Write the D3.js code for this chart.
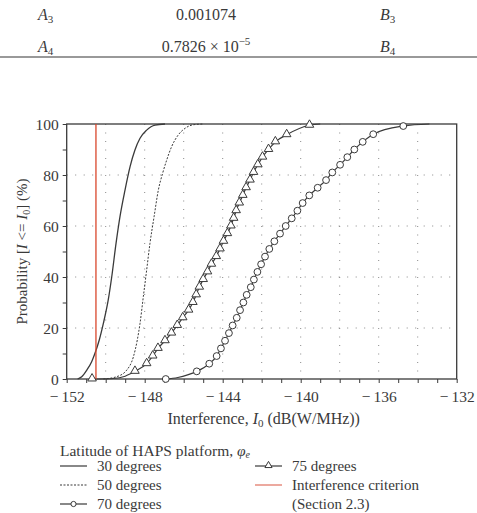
<!DOCTYPE html>
<html>
<head>
<meta charset="utf-8">
<script src="https://cdn.jsdelivr.net/npm/d3@7"></script>
<style>
  body { margin: 0; background: #fff; }
  svg { display: block; }
  svg text { fill: #3a3a3a; }
</style>
</head>
<body>
<div id="chart"></div>
<script>
// table rows shown above the chart
var tableLabels = ["3", "4"];
var tableValues = ["0.001074", "0.7826 \u00d7 10"];
var tableExp = ["", "\u22125"];

// x ticks / y ticks
var xTicks = [-152, -148, -144, -140, -136, -132];
var yTicks = [0, 20, 40, 60, 80, 100];

// interference criterion (dB(W/MHz))
var criterion = -150.5;

// 30 degrees (solid)
var lat30 = [[-151.44,0],[-151.23,0.9],[-150.97,3.5],[-150.72,6.8],[-150.55,10.1],[-150.33,15.3],
  [-150.12,21.8],[-149.87,31.0],[-149.69,40.1],[-149.47,53.2],[-149.27,63.6],[-149.01,74.1],
  [-148.75,83.3],[-148.5,89.8],[-148.24,94.4],[-147.9,97.6],[-147.47,99.6],[-146.96,100]];

// 50 degrees (dotted)
var lat50 = [[-150.12,0],[-149.44,0.9],[-148.92,3.5],[-148.58,8.7],[-148.38,15.3],[-148.24,21.8],
  [-148.07,32.3],[-147.9,42.7],[-147.73,53.2],[-147.52,63.6],[-147.3,74.1],[-147.08,80.7],
  [-146.87,85.9],[-146.62,91.1],[-146.28,95.7],[-145.93,98.3],[-145.51,99.7],[-145.0,100]];

// 70 degrees (circles), third field = marker
var lat70 = [[-146.92,0,1],[-146.3,0.6,0],[-145.8,1.6,0],[-145.33,3,1],[-144.69,6,1],[-144.31,9,1],
  [-144.09,12,1],[-143.88,15,1],[-143.68,18,1],[-143.49,21,1],[-143.28,24,1],[-143.11,27,1],
  [-142.94,30,1],[-142.77,33,1],[-142.56,36,1],[-142.4,39,1],[-142.22,42,1],[-142.03,45,1],
  [-141.83,48,1],[-141.61,51,1],[-141.35,54,1],[-141.06,57,1],[-140.77,60,1],[-140.46,63,1],
  [-140.17,66,1],[-139.9,69,1],[-139.56,72,1],[-139.13,75,1],[-138.7,78,1],[-138.38,81,1],
  [-137.98,84,1],[-137.61,87,1],[-137.25,90,1],[-136.82,93,1],[-136.28,96,1],[-134.74,99.2,1],
  [-133.4,100,0]];

// 75 degrees (triangles)
var lat75 = [[-150.7,0,1],[-149.6,0.2,0],[-149.0,1.1,0],[-148.5,3,1],[-147.9,6,1],[-147.59,9,1],
  [-147.32,12,1],[-146.96,15,1],[-146.63,18,1],[-146.33,21,1],[-146.05,24,1],[-145.75,27,1],
  [-145.53,30,1],[-145.36,33,1],[-145.2,36,1],[-145.0,39,1],[-144.78,42,1],[-144.58,45,1],
  [-144.33,48,1],[-144.14,51,1],[-143.96,54,1],[-143.76,57,1],[-143.58,60,1],[-143.44,63,1],
  [-143.31,66,1],[-143.15,69,1],[-142.97,72,1],[-142.8,75,1],[-142.6,78,1],[-142.42,81,1],
  [-142.2,84,1],[-141.96,87,1],[-141.65,90,1],[-141.3,93,1],[-140.72,95.8,1],[-139.55,99.5,1],
  [-139.0,100,0]];

var width = 477, height = 513;
var margin = { top: 124, right: 20.3, bottom: 134, left: 66.7 };
var ink = "#3a3a3a";
var serif = "Liberation Serif";

var svg = d3.select("#chart").append("svg")
  .attr("width", width)
  .attr("height", height)
  .attr("font-family", serif);

// ---- table fragment at top
var rowY = [20, 52];
tableLabels.forEach(function(sub, i) {
  var t = svg.append("text").attr("x", 38).attr("y", rowY[i]).style("font-size", "16px");
  t.append("tspan").style("font-style", "italic").text("A");
  t.append("tspan").attr("dy", 3).style("font-size", "11px").text(sub);

  var v = svg.append("text").attr("x", 206).attr("y", rowY[i]).attr("text-anchor", "middle").style("font-size", "16px");
  v.append("tspan").text(tableValues[i]);
  if (tableExp[i]) v.append("tspan").attr("dy", -7).style("font-size", "11px").text(tableExp[i]);

  var b = svg.append("text").attr("x", 380).attr("y", rowY[i]).style("font-size", "16px");
  b.append("tspan").style("font-style", "italic").text("B");
  b.append("tspan").attr("dy", 3).style("font-size", "11px").text(sub);
});
svg.append("line").attr("x1", 0).attr("x2", width).attr("y1", 57).attr("y2", 57)
  .attr("stroke", "#777").attr("stroke-width", 1.5);

// ---- plot
var w = width - margin.left - margin.right;
var h = height - margin.top - margin.bottom;

var x = d3.scaleLinear().domain([-152, -132]).range([0, w]);
var y = d3.scaleLinear().domain([0, 100]).range([h, 0]);

var g = svg.append("g").attr("transform", "translate(" + margin.left + "," + margin.top + ")");

// dotted grid
g.selectAll(".vgrid").data(d3.range(-150, -132, 2)).enter().append("line")
  .attr("x1", function(d) { return x(d); }).attr("x2", function(d) { return x(d); })
  .attr("y1", 0).attr("y2", h)
  .attr("stroke", "#888").attr("stroke-width", 1).attr("stroke-dasharray", "1,7.5");
g.selectAll(".hgrid").data([20, 40, 60, 80]).enter().append("line")
  .attr("x1", 0).attr("x2", w)
  .attr("y1", function(d) { return y(d); }).attr("y2", function(d) { return y(d); })
  .attr("stroke", "#888").attr("stroke-width", 1).attr("stroke-dasharray", "1,7.5");

// axes
var xAxis = d3.axisBottom(x).tickValues(d3.range(-152, -131, 1)).tickSize(4)
  .tickFormat(function(d) { return xTicks.indexOf(d) >= 0 ? String(d).replace("-", "\u2212\u2009") : ""; });
var yAxis = d3.axisLeft(y).tickValues(d3.range(0, 101, 10)).tickSize(4)
  .tickFormat(function(d) { return yTicks.indexOf(d) >= 0 ? d : ""; });

var gx = g.append("g").attr("transform", "translate(0," + h + ")").call(xAxis);
var gy = g.append("g").call(yAxis);
[gx, gy].forEach(function(a) {
  a.attr("font-family", serif).attr("font-size", 15.5);
  a.select(".domain").remove();
  a.selectAll(".tick line").attr("stroke", ink);
  a.selectAll("text").attr("fill", ink);
});
gx.selectAll("text").attr("dy", "1.0em");
gy.selectAll("text").attr("x", -8).attr("dy", "0.35em");

g.append("rect").attr("width", w).attr("height", h)
  .attr("fill", "none").attr("stroke", ink).attr("stroke-width", 1.3);

// curves
var line = d3.line()
  .x(function(d) { return x(d[0]); })
  .y(function(d) { return y(d[1]); })
  .curve(d3.curveMonotoneX);

g.append("path").datum(lat30).attr("d", line).attr("fill", "none").attr("stroke", ink).attr("stroke-width", 1.3);
g.append("path").datum(lat50).attr("d", line).attr("fill", "none").attr("stroke", ink).attr("stroke-width", 1)
  .attr("stroke-dasharray", "2,1.5");
g.append("path").datum(lat70).attr("d", line).attr("fill", "none").attr("stroke", ink).attr("stroke-width", 1.2);
g.append("path").datum(lat75).attr("d", line).attr("fill", "none").attr("stroke", ink).attr("stroke-width", 1.2);

// criterion
g.append("line").attr("x1", x(criterion)).attr("x2", x(criterion)).attr("y1", y(0)).attr("y2", y(100))
  .attr("stroke", "#d9472b").attr("stroke-width", 1.3);

var tri = d3.symbol().type(d3.symbolTriangle).size(32);
g.selectAll(".tri").data(lat75.filter(function(d) { return d[2]; })).enter().append("path")
  .attr("d", tri)
  .attr("transform", function(d) { return "translate(" + x(d[0]) + "," + (y(d[1]) - 0.5) + ")"; })
  .attr("fill", "#fff").attr("stroke", ink).attr("stroke-width", 1);
g.selectAll(".circ").data(lat70.filter(function(d) { return d[2]; })).enter().append("circle")
  .attr("cx", function(d) { return x(d[0]); })
  .attr("cy", function(d) { return y(d[1]); })
  .attr("r", 3.4)
  .attr("fill", "#fff").attr("stroke", ink).attr("stroke-width", 1);

// axis titles
var xl = svg.append("text").attr("x", margin.left + w / 2 + 2).attr("y", 424)
  .attr("text-anchor", "middle").style("font-size", "16px");
xl.append("tspan").text("Interference, ");
xl.append("tspan").style("font-style", "italic").text("I");
xl.append("tspan").attr("dy", 3).style("font-size", "11px").text("0");
xl.append("tspan").attr("dy", -3).text(" (dB(W/MHz))");

var yl = svg.append("text")
  .attr("transform", "translate(27," + (margin.top + h / 2) + ") rotate(-90)")
  .attr("text-anchor", "middle").style("font-size", "15px");
yl.append("tspan").text("Probability [");
yl.append("tspan").style("font-style", "italic").text("I");
yl.append("tspan").text(" <= ");
yl.append("tspan").style("font-style", "italic").text("I");
yl.append("tspan").attr("dy", 3).style("font-size", "10px").text("0");
yl.append("tspan").attr("dy", -3).text("] (%)");

// legend
var lt = svg.append("text").attr("x", 60).attr("y", 456).style("font-size", "15.5px");
lt.append("tspan").text("Latitude of HAPS platform, ");
lt.append("tspan").style("font-style", "italic").text("\u03c6");
lt.append("tspan").attr("dy", 2).style("font-size", "10px").style("font-style", "italic").text("e");

var legendItems = [
  { col: 0, row: 0, label: "30 degrees", dash: null, mark: null, color: ink },
  { col: 0, row: 1, label: "50 degrees", dash: "2,1.5", mark: null, color: ink },
  { col: 0, row: 2, label: "70 degrees", dash: null, mark: "circle", color: ink },
  { col: 1, row: 0, label: "75 degrees", dash: null, mark: "tri", color: ink },
  { col: 1, row: 1, label: "Interference criterion", dash: null, mark: null, color: "#e07060" }
];
var colX = [60, 255], rowBase = [471, 490, 509];

legendItems.forEach(function(d) {
  var lx = colX[d.col], ly = rowBase[d.row] - 5;
  svg.append("line").attr("x1", lx).attr("x2", lx + 27).attr("y1", ly).attr("y2", ly)
    .attr("stroke", d.color).attr("stroke-width", 1.2).attr("stroke-dasharray", d.dash);
  if (d.mark == "circle") {
    svg.append("circle").attr("cx", lx + 13.5).attr("cy", ly).attr("r", 2.6)
      .attr("fill", "#fff").attr("stroke", ink);
  }
  if (d.mark == "tri") {
    svg.append("path").attr("d", d3.symbol().type(d3.symbolTriangle).size(22)())
      .attr("transform", "translate(" + (lx + 13.5) + "," + (ly - 0.5) + ")")
      .attr("fill", "#fff").attr("stroke", ink);
  }
  svg.append("text").attr("x", lx + 37).attr("y", rowBase[d.row]).style("font-size", "15px").text(d.label);
});
svg.append("text").attr("x", 292).attr("y", rowBase[2]).style("font-size", "15px").text("(Section 2.3)");
</script>
</body>
</html>
